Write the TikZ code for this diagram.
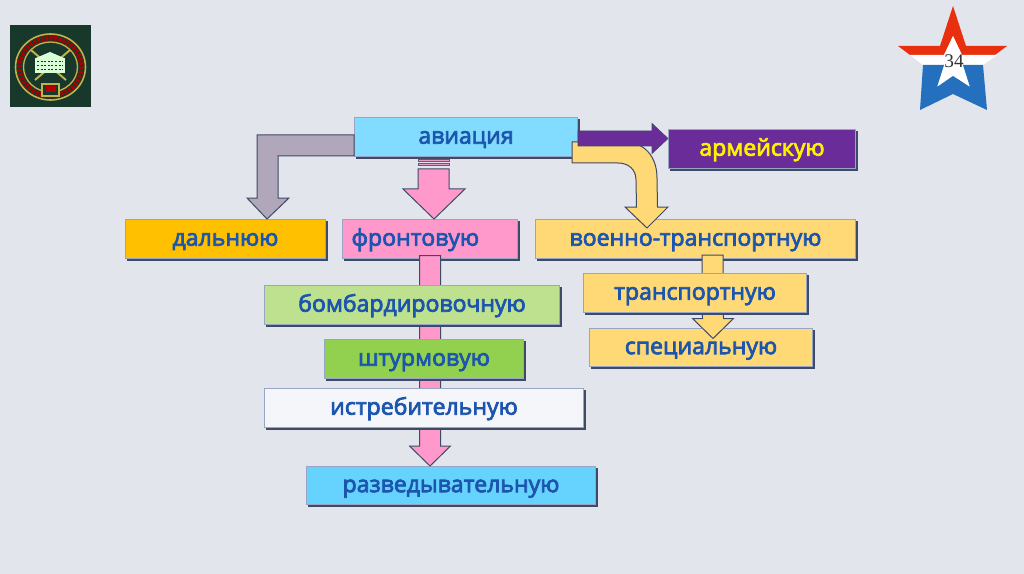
\documentclass[tikz,border=0pt]{standalone}
\usepackage{fontspec}
\setmainfont{Open Sans}[FakeBold=3.2]
\newfontfamily\numfont{Liberation Serif}
\usetikzlibrary{calc}
\definecolor{bgc}{HTML}{E2E5EC}
\definecolor{txtc}{HTML}{1B55AE}
\definecolor{edgec}{HTML}{3F4A66}
\definecolor{rimc}{HTML}{98A6C6}
\definecolor{skyc}{HTML}{82DCFF}
\definecolor{razvc}{HTML}{66D3FF}
\definecolor{purc}{HTML}{6A2C99}
\definecolor{orc}{HTML}{FFC000}
\definecolor{pinkc}{HTML}{FF99CC}
\definecolor{yelc}{HTML}{FFD976}
\definecolor{lgrc}{HTML}{BDE18F}
\definecolor{grc}{HTML}{92D14F}
\definecolor{whc}{HTML}{F5F6FA}
\definecolor{grayc}{HTML}{B0A8BA}
\definecolor{logoc}{HTML}{17382A}
\definecolor{goldc}{HTML}{C2B24A}
\definecolor{redc}{HTML}{E8300E}
\definecolor{bluec}{HTML}{2470BE}
\tikzset{
  boxn/.style n args={3}{draw=rimc, line width=.6pt, fill=#3, minimum width=#1*.75pt-.6pt, minimum height=#2*.75pt-.6pt,
    inner sep=0pt, text=txtc, text height=10pt, text depth=0pt, font=\fontsize{17.3}{20}\selectfont},
  blockarrow/.style={draw=edgec, line width=.75pt, line join=miter},
  shadowbox/.style={fill=edgec, draw=none}
}
% \boxnode{name}{cx}{cy}{w}{h}{fill}{text}
\newcommand{\boxnode}[7]{%
  \fill[shadowbox] (#2-#4/2+2,#3-#5/2+2) rectangle (#2+#4/2+1.6,#3+#5/2+1.6);
  \node[boxn={#4}{#5}{#6}] (#1) at (#2,#3) {#7};
}
% \vblock{fill}{start}{end}{half shaft}{half head}{head length}
\newcommand{\vblock}[6]{%
  \draw[blockarrow,fill=#1] ($(#2)+(-#4,0)$) -- ($(#2)+(#4,0)$) -- ($(#3)+(#4,-#6)$) -- ($(#3)+(#5,-#6)$) -- (#3)
    -- ($(#3)+(-#5,-#6)$) -- ($(#3)+(-#4,-#6)$) -- cycle;
}
\begin{document}
\begin{tikzpicture}[x=.75pt,y=-.75pt]
\useasboundingbox (0,0) rectangle (1024,574);
\fill[bgc] (0,0) rectangle (1024,574);

% emblem, top left
\fill[logoc] (10,25) rectangle (91,107);
\draw[goldc,line width=1.2pt] (50.5,67) ellipse [x radius=35,y radius=33];
\draw[goldc,line width=1pt] (50.5,67) ellipse [x radius=27,y radius=25];
\draw[red!65!black,line width=3.5pt,dash pattern=on 2pt off 1.2pt] (50.5,67) ellipse [x radius=31,y radius=29];
\draw[goldc,line width=1.5pt] (31,50) -- (66,80) (70,50) -- (35,80);
\fill[white!85!green] (35,58) rectangle (65,73);
\fill[white!85!green] (36,58) -- (50,52) -- (64,58) -- cycle;
\foreach \yy in {61,65,69} \draw[logoc,line width=.6pt,dash pattern=on 1.5pt off 1.2pt] (37,\yy) -- (63,\yy);
\fill[logoc] (41,83) rectangle (60,97);
\draw[goldc,line width=.8pt] (42,84) rectangle (59,96);
\fill[red!70!black] (45,86) rectangle (56,92);

% star, top right
\fill[redc] (953,6) -- (966,46) -- (1007,46) -- (995,55) -- (962,55) -- (953,36) -- (944,55) -- (910,55) -- (898,46) -- (940,46) -- cycle;
\fill[white] (910,55) -- (997,55) -- (983,65) -- (963,65) -- (970,87) -- (953,76) -- (937,87) -- (944,65) -- (923,65) -- cycle;
\fill[white] (953,36) -- (962,55) -- (944,55) -- cycle;
\fill[bluec] (923,65) -- (944,65) -- (937,87) -- (953,76) -- (970,87) -- (963,65) -- (983,65) -- (987,110) -- (953,94) -- (920,110) -- cycle;
\node[inner sep=0pt,font=\numfont\fontsize{14.5}{16}\selectfont,text=black!80] (num) at (954,61) {34};

% boxes and arrows, back to front
\boxnode{avia}{466}{137}{224}{40}{skyc}{авиация}
\boxnode{daln}{225.5}{239}{201}{40}{orc}{дальнюю}
\boxnode{fron}{430}{239}{176}{40}{pinkc}{фронтовую\hspace*{22pt}}
\boxnode{voen}{695.5}{239}{321}{40}{yelc}{военно-транспортную}
\boxnode{armi}{762}{149}{188}{40}{purc}{\textcolor{yellow}{армейскую}}
\boxnode{spec}{701}{347.5}{224}{39}{yelc}{специальную}
\boxnode{razv}{451}{485.5}{290}{39}{razvc}{разведывательную}

% grey elbow arrow
\coordinate (gs) at ($(avia.west)+(0,-2)$);
\coordinate (ge) at ($(daln.north)+(41.5,0)$);
\draw[blockarrow,fill=grayc] (gs) -- ($(ge)+(-10,-84)$) -- ($(ge)+(-10,-21)$) -- ($(ge)+(-20,-21)$) -- (ge)
  -- ($(ge)+(22,-21)$) -- ($(ge)+(11,-21)$) -- ($(ge)+(11,-63)$) -- ($(avia.west)+(0,19)$) -- cycle;

% pink arrow, avia to fron
\coordinate (pe) at ($(fron.north)+(4,0)$);
\foreach \yt/\yb in {2/4.5,6/8.5}
  \draw[draw=edgec!80!pinkc,line width=.5pt,fill=pinkc!70!grayc] ($(avia.south)+(-48,\yt)$) rectangle ($(avia.south)+(-17,\yb)$);
\draw[blockarrow,fill=pinkc] ($(avia.south)+(-48,12)$) -- ($(avia.south)+(-17,12)$) -- ($(pe)+(15,-30)$) -- ($(pe)+(31,-30)$) -- (pe)
  -- ($(pe)+(-31,-30)$) -- ($(pe)+(-16,-30)$) -- cycle;

% pink long arrow, fron to razv
\coordinate (qs) at ($(fron.south)+(0,-3.5)$);
\coordinate (qe) at ($(razv.north)+(-21,0)$);
\vblock{pinkc}{qs}{qe}{10.5}{20.5}{20}

% yellow curved arrow, avia to voen
\coordinate (ys) at ($(avia.east)+(-6,5)$);
\coordinate (ye) at ($(voen.north)+(-48.5,9)$);
\draw[blockarrow,fill=yelc] (ys) -- ($(ys)+(52,0)$) .. controls ($(ys)+(72,0)$) and ($(ys)+(85,14)$) .. ($(ys)+(85,36)$)
  -- ($(ye)+(10.5,-21)$) -- ($(ye)+(21,-21)$) -- (ye) -- ($(ye)+(-22,-21)$) -- ($(ye)+(-10.5,-21)$)
  -- ($(ys)+(64,38)$) .. controls ($(ys)+(64,27)$) and ($(ys)+(56,21)$) .. ($(ys)+(46,21)$) -- ($(ys)+(0,21)$) -- cycle;

% purple arrow, avia to armi
\coordinate (ms) at ($(avia.east)+(0,1.5)$);
\coordinate (me) at (armi.west |- ms);
\draw[draw=edgec,line width=.5pt,fill=purc] ($(ms)+(0,-7.5)$) -- ($(me)+(-16,-7.5)$) -- ($(me)+(-16,-15)$) -- (me)
  -- ($(me)+(-16,15)$) -- ($(me)+(-16,7.5)$) -- ($(ms)+(0,7.5)$) -- cycle;

% yellow arrow, voen to spec
\coordinate (ts) at ($(voen.south)+(17,-4)$);
\coordinate (te) at ($(spec.north)+(12,10.5)$);
\vblock{yelc}{ts}{te}{10.5}{20.5}{20}
\boxnode{tran}{695}{293}{224}{40}{yelc}{транспортную}

\boxnode{bomb}{412}{305}{296}{40}{lgrc}{бомбардировочную}
\boxnode{shtu}{424}{359}{200}{40}{grc}{штурмовую}
\boxnode{istr}{424}{408}{320}{40}{whc}{истребительную}
\end{tikzpicture}
\end{document}
